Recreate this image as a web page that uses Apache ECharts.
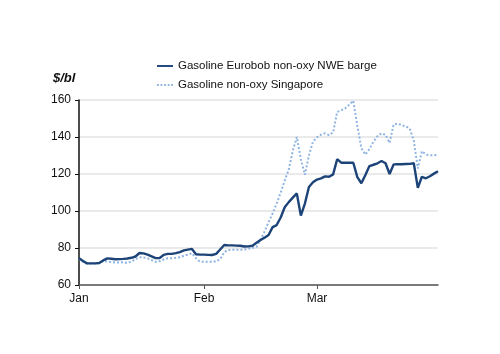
<!DOCTYPE html>
<html>
<head>
<meta charset="utf-8">
<script src="https://cdn.jsdelivr.net/npm/echarts@6/dist/echarts.min.js"></script>
<style>
html, body { margin: 0; padding: 0; background: #fff; }
#chart { width: 500px; height: 354px; }
</style>
</head>
<body>
<div id="chart"></div>
<script>
// daily values, 1 Jan - 31 Mar 2022 ($/bl)
var startDay = '2022-01-01';
var monthNames = ['Jan', 'Feb', 'Mar', 'Apr', 'May', 'Jun', 'Jul', 'Aug', 'Sep', 'Oct', 'Nov', 'Dec'];
var yTicks = [60, 80, 100, 120, 140, 160];

var eurobob = [
    74.5, 73, 71.7, 71.7, 71.7, 71.9, 73.3, 74.4, 74.2, 73.9,
    74.0, 74.1, 74.3, 74.7, 75.4, 77.3, 77.1, 76.4, 75.5, 74.5,
    74.6, 76.3, 76.8, 76.8, 77.2, 77.8, 78.7, 79.1, 79.5, 76.6,
    76.4,
    76.4, 76.3, 76.2, 76.8, 79.2, 81.6, 81.4, 81.4, 81.3, 81.2,
    80.8, 80.9, 81.2, 82.8, 84.3, 85.6, 87.0, 91.3, 92.4, 96.5,
    102, 104.8, 107.2, 109.5, 97.5, 104, 113, 115.5,
    117, 117.6, 118.7, 118.5, 119.8, 128, 126.1, 126.1, 126.1, 126.1,
    118.3, 115, 119.5, 124.3, 125, 125.8, 127, 125.8, 120, 125.2,
    125.3, 125.3, 125.4, 125.5, 125.8, 112.5, 118.5, 117.7, 118.8, 120.2,
    121.5
];

var singapore = [
    74.2, 72.5, 71.6, 71.6, 71.6, 71.8, 72.9, 72.8, 72.3, 72.2,
    72.2, 72.3, 71.9, 72.6, 74.0, 75.0, 74.9, 74.4, 73.5, 72.5,
    72.9, 73.8, 74.5, 74.5, 74.7, 75.0, 75.8, 76.4, 77.2, 74.5,
    72.6,
    72.6, 72.6, 72.6, 72.7, 74, 77.8, 78.9, 79, 79, 79,
    79.2, 79.6, 80, 80.6, 84.5, 89, 94, 98.7, 104, 110,
    116.5, 122.5, 132.5, 140, 128, 119.6, 130, 137.5,
    139.8, 141.3, 142, 141, 142.5, 153.5, 154.4, 155.5, 157.5, 159.6,
    146, 134, 130.5, 133.5, 137.5, 140.5, 142, 141.2, 136.8, 146.8,
    147.2, 146.4, 145.8, 144.5, 138, 123, 132.3, 130.5, 130.2, 130.1,
    130.3
];

function dayList(start, n) {
    var out = [];
    var p = start.split('-');
    for (var i = 0; i < n; i++) {
        var d = new Date(+p[0], +p[1] - 1, +p[2] + i);
        var mm = ('0' + (d.getMonth() + 1)).slice(-2);
        var dd = ('0' + d.getDate()).slice(-2);
        out.push(d.getFullYear() + '-' + mm + '-' + dd);
    }
    return out;
}
var days = dayList(startDay, eurobob.length);

function isMonthStart(idx, val) {
    return val.slice(-2) === '01';
}

var chart = echarts.init(document.getElementById('chart'));

var option = {
    backgroundColor: '#fff',
    animation: false,
    textStyle: { fontFamily: 'Liberation Sans' },
    grid: { left: 79, right: 62, top: 100, bottom: 69 },
    legend: {
        orient: 'vertical',
        left: 152,
        top: 55,
        itemWidth: 16,
        itemHeight: 8,
        itemGap: 7,
        itemStyle: { borderWidth: 0 },
        textStyle: { fontSize: 11.5, color: '#111', fontFamily: 'Liberation Sans' },
        data: [
            { name: 'Gasoline Eurobob non-oxy NWE barge', icon: 'path://M0,3h20v2.4h-20z' },
            { name: 'Gasoline non-oxy Singapore', icon: 'path://M0,3h2v2h-2zM4,3h2v2h-2zM8,3h2v2h-2zM12,3h2v2h-2zM16,3h2v2h-2z' }
        ]
    },
    graphic: [{
        type: 'text',
        left: 53,
        top: 72,
        style: { text: '$/bl', font: 'italic bold 13px Liberation Sans', fill: '#111' }
    }],
    xAxis: {
        type: 'category',
        boundaryGap: false,
        data: days,
        axisLine: { show: true, lineStyle: { color: '#555', width: 1.5 } },
        axisTick: { show: true, interval: isMonthStart, length: 4, lineStyle: { color: '#555' } },
        axisLabel: {
            interval: isMonthStart,
            color: '#111',
            fontSize: 12,
            margin: 8,
            formatter: function (v) {
                return monthNames[+v.slice(5, 7) - 1];
            }
        },
        splitLine: { show: false }
    },
    yAxis: {
        type: 'value',
        min: yTicks[0],
        max: yTicks[yTicks.length - 1],
        interval: 20,
        axisLine: { show: true, lineStyle: { color: '#111', width: 1.5 } },
        axisTick: { show: true, length: 4, lineStyle: { color: '#111' } },
        axisLabel: { color: '#111', fontSize: 12, margin: 8 },
        splitLine: { show: true, lineStyle: { color: '#e3e3e3', width: 1.5 } }
    },
    series: [{
        name: 'Gasoline Eurobob non-oxy NWE barge',
        type: 'line',
        showSymbol: false,
        color: '#1c4478',
        lineStyle: { width: 2.4, color: '#1c4478' },
        data: eurobob,
        z: 3
    }, {
        name: 'Gasoline non-oxy Singapore',
        type: 'line',
        showSymbol: false,
        color: '#8db4e2',
        lineStyle: { width: 2, color: '#8db4e2', type: [2, 2] },
        data: singapore,
        z: 2
    }]
};
chart.setOption(option);
</script>
</body>
</html>
